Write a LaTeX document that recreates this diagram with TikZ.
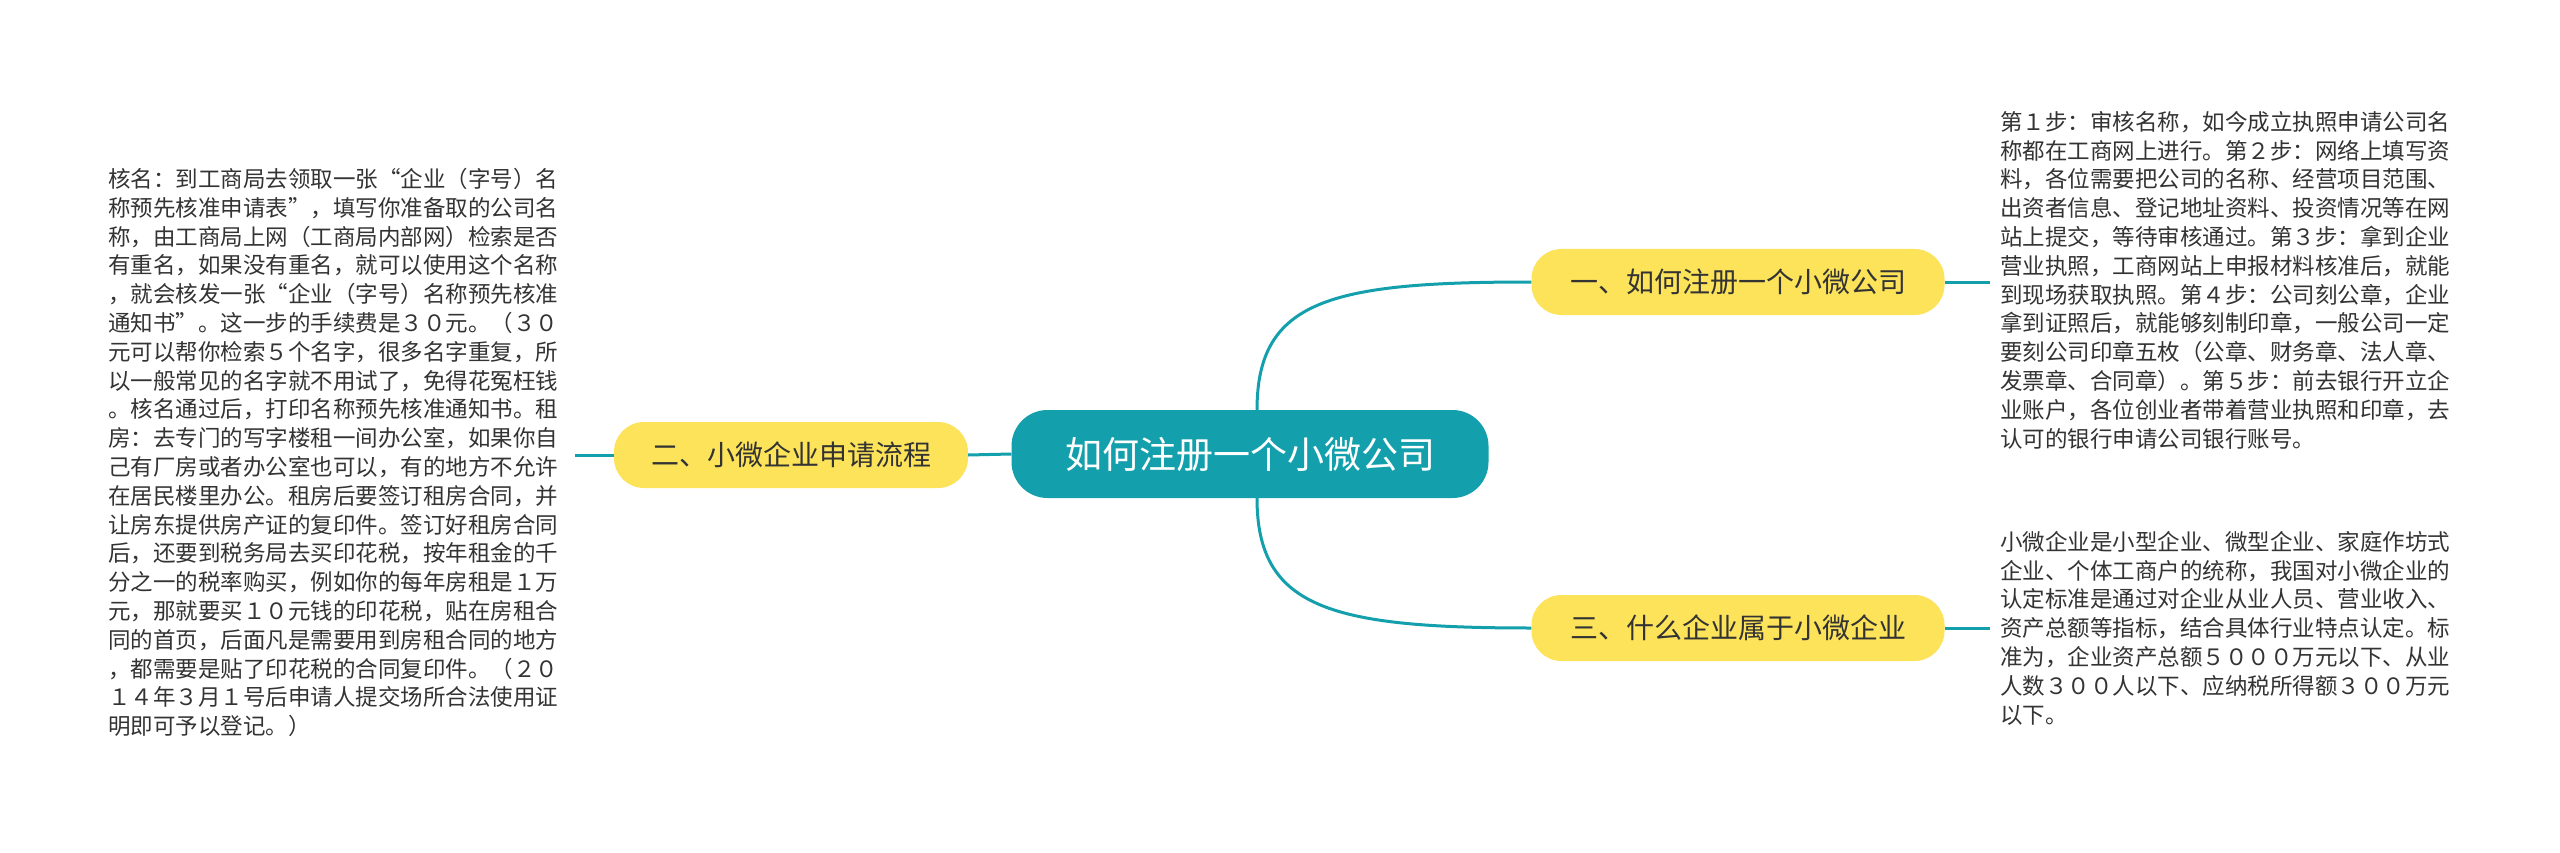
\documentclass[tikz,border=0pt]{standalone}
\usepackage{fontspec}
\setmainfont{Noto Sans CJK SC}
\definecolor{teal1}{HTML}{13A0AC}
\definecolor{yel}{HTML}{FCE35A}
\definecolor{txt}{HTML}{333333}
\tikzset{
  sub/.style={fill=yel,rounded corners=30pt,minimum height=66pt,inner xsep=22pt,font=\fontsize{28}{32}\selectfont,text=txt},
  body/.style={align=left,font=\fontsize{22.5}{28.8}\selectfont,text=txt,inner sep=0pt},
  conn/.style={draw=teal1,line width=3pt}
}
\begin{document}
\begin{tikzpicture}[x=1pt,y=-1pt]
\useasboundingbox[fill=white] (0,0) rectangle (2560,853);
\node[fill=teal1,rounded corners=36pt,minimum width=477pt,minimum height=88pt,text=white,font=\fontsize{37}{42}\selectfont] (c) at (1250,454) {如何注册一个小微公司};
\node[sub,minimum width=413pt] (one) at (1738,282) {一、如何注册一个小微公司};
\node[sub,minimum width=413pt] (three) at (1738,628) {三、什么企业属于小微企业};
\node[sub,minimum width=354pt] (two) at (791,455) {二、小微企业申请流程};
\node[body,anchor=north west] (t1) at (2000,111) {第１步：审核名称，如今成立执照申请公司名\\称都在工商网上进行。第２步：网络上填写资\\料，各位需要把公司的名称、经营项目范围、\\出资者信息、登记地址资料、投资情况等在网\\站上提交，等待审核通过。第３步：拿到企业\\营业执照，工商网站上申报材料核准后，就能\\到现场获取执照。第４步：公司刻公章，企业\\拿到证照后，就能够刻制印章，一般公司一定\\要刻公司印章五枚（公章、财务章、法人章、\\发票章、合同章）。第５步：前去银行开立企\\业账户，各位创业者带着营业执照和印章，去\\认可的银行申请公司银行账号。};
\node[body,anchor=north west] (t3) at (2000,531) {小微企业是小型企业、微型企业、家庭作坊式\\企业、个体工商户的统称，我国对小微企业的\\认定标准是通过对企业从业人员、营业收入、\\资产总额等指标，结合具体行业特点认定。标\\准为，企业资产总额５０００万元以下、从业\\人数３００人以下、应纳税所得额３００万元\\以下。};
\node[body,anchor=north west] (t2) at (108,168) {核名：到工商局去领取一张“企业（字号）名\\称预先核准申请表”，填写你准备取的公司名\\称，由工商局上网（工商局内部网）检索是否\\有重名，如果没有重名，就可以使用这个名称\\，就会核发一张“企业（字号）名称预先核准\\通知书”。这一步的手续费是３０元。（３０\\元可以帮你检索５个名字，很多名字重复，所\\以一般常见的名字就不用试了，免得花冤枉钱\\。核名通过后，打印名称预先核准通知书。租\\房：去专门的写字楼租一间办公室，如果你自\\己有厂房或者办公室也可以，有的地方不允许\\在居民楼里办公。租房后要签订租房合同，并\\让房东提供房产证的复印件。签订好租房合同\\后，还要到税务局去买印花税，按年租金的千\\分之一的税率购买，例如你的每年房租是１万\\元，那就要买１０元钱的印花税，贴在房租合\\同的首页，后面凡是需要用到房租合同的地方\\，都需要是贴了印花税的合同复印件。（２０\\１４年３月１号后申请人提交场所合法使用证\\明即可予以登记。）};
\coordinate (a1) at (1257,410);
\coordinate (a3) at (1257,498);
\draw[conn] (a1) .. controls (1257,300) and (1330,282) .. (one.west);
\draw[conn] (a3) .. controls (1257,608) and (1330,628) .. (three.west);
\draw[conn] (c.west) -- (two.east);
\coordinate (e1) at (1990,282);
\coordinate (e3) at (1990,628);
\coordinate (e2) at (575,455);
\draw[conn] (one.east) -- (e1);
\draw[conn] (three.east) -- (e3);
\draw[conn] (two.west) -- (e2);
\end{tikzpicture}
\end{document}
